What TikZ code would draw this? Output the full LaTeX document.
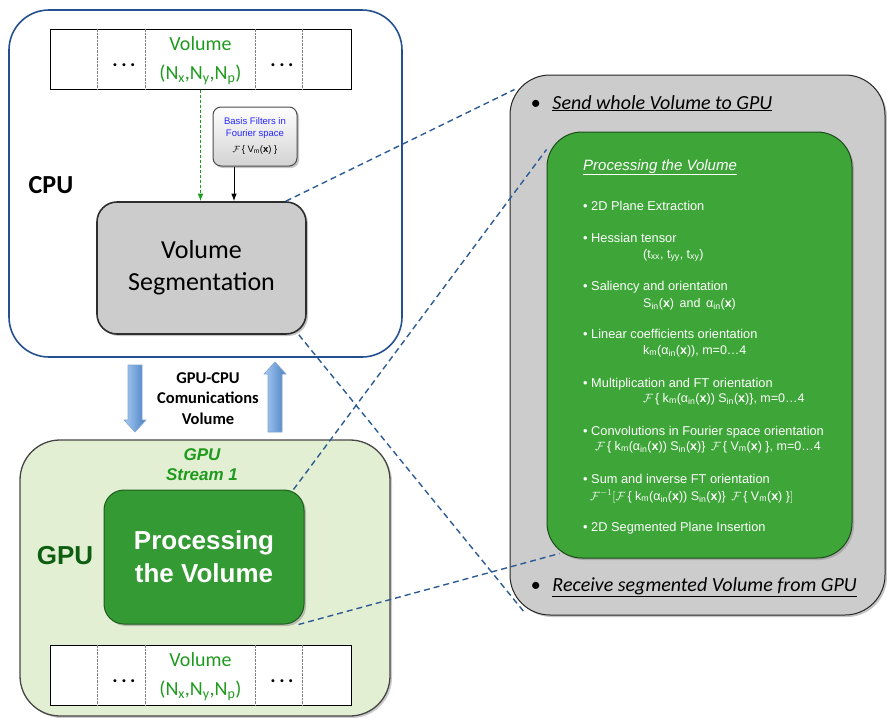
\documentclass[tikz,border=0pt]{standalone}
\usepackage{fontspec}
\setmainfont{Carlito}
\newfontfamily\arialfont{Liberation Sans}
\usetikzlibrary{arrows.meta,positioning,shapes.arrows,shadows,calc}

\definecolor{cpuline}{HTML}{25508F}
\definecolor{volgreen}{HTML}{1E9A1E}
\definecolor{gpufill}{HTML}{E3EFD2}
\definecolor{gpudark}{HTML}{0E5E12}
\definecolor{procfill}{HTML}{349A34}
\definecolor{kernfill}{HTML}{3EA638}
\definecolor{hostfill}{HTML}{CCCCCC}
\definecolor{linkblue}{HTML}{2C5C96}
\definecolor{arrowlight}{HTML}{A8CDF4}
\definecolor{arrowdark}{HTML}{4A7EC0}

\begin{document}
\begin{tikzpicture}[x=1pt, y=-1pt, >=Latex,
    panel/.style={draw, rounded corners=40pt, line width=1.6pt},
    strip/.style={draw, line width=1pt, fill=white, minimum width=301pt, minimum height=60pt, inner sep=0pt},
    roundbox/.style={draw, rounded corners=20pt, line width=1pt, drop shadow={opacity=0.45, shadow xshift=2pt, shadow yshift=-2pt}},
    steptext/.style={anchor=base west, text=white, inner sep=0pt, font=\arialfont\fontsize{12.8}{15}\selectfont},
    mathline/.style={steptext, font=\arialfont\fontsize{12.5}{15}\selectfont},
    link/.style={draw=linkblue, dash pattern=on 6pt off 4pt, line width=1.4pt},
    transfer/.style={draw=arrowdark!70, line width=0.6pt, left color=arrowlight, right color=arrowdark}
  ]
    \useasboundingbox (0,0) rectangle (887,718);

    %% CPU side
    \node [panel, draw=cpuline, fill=white, minimum width=393pt, minimum height=347pt] (cpu) at (205.5,183.5) {};
    \node [font=\bfseries\fontsize{26}{30}\selectfont] (cpulabel) at (51,185) {CPU};

    %% GPU side
    \node [panel, line width=1.3pt, draw=gray!55!black, fill=gpufill, drop shadow={opacity=0.4, shadow xshift=2pt, shadow yshift=-2pt}, minimum width=370pt, minimum height=276pt] (gpu) at (205,578) {};
    \node [text=volgreen, align=center, font=\arialfont\bfseries\itshape\fontsize{17}{20}\selectfont] (stream) at (202,465) {GPU\\Stream 1};
    \node [text=gpudark, font=\arialfont\bfseries\fontsize{26}{30}\selectfont] (gpulabel) at (65,556) {GPU};

    %% volume strips, one in each memory
    \foreach \n/\y in {cpuvol/59, gpuvol/675} {
      \node [strip] (\n) at (200.5,\y) {};
      \foreach \dx in {48,96,206,253}
        \draw [densely dotted, gray] ([xshift=\dx pt]\n.north west) -- ([xshift=\dx pt]\n.south west);
      \node [text=volgreen, align=center, font=\fontsize{20}{29}\selectfont] (\n txt) at (200.5,\y+2) {Volume\\(N\textsubscript{x},N\textsubscript{y},N\textsubscript{p})};
      \node [anchor=base, font=\bfseries\fontsize{20}{24}\selectfont] (\n l) at (124,\y+7) {.\hspace{3.5pt}.\hspace{3.5pt}.};
      \node [anchor=base, font=\bfseries\fontsize{20}{24}\selectfont] (\n r) at (282,\y+7) {.\hspace{3.5pt}.\hspace{3.5pt}.};
    }

    \node [roundbox, rounded corners=8pt, top color=white, bottom color=gray!35, draw=gray!60!black, minimum width=84pt, minimum height=59pt, align=center, text=blue!85!white, font=\arialfont\fontsize{9.5}{12}\selectfont] (basis) at (255,136.5) {Basis Filters in\\Fourier space\\[4pt]{\color{black}$\mathcal{F}$\,\{ V\textsubscript{m}(\textbf{x}) \}}};
    \node [roundbox, fill=gray!40, draw=gray!35!black, line width=1.6pt, minimum width=209pt, minimum height=132pt, align=center, font=\fontsize{26}{32}\selectfont] (seg) at (201.5,268) {Volume\\Segmentation};

    \draw [->, densely dashed, volgreen, line width=1pt] (cpuvol.south) -- (cpuvol.south |- seg.north);
    \draw [->, line width=1pt] ([xshift=-21pt]basis.south) -- ([xshift=-21pt]basis.south |- seg.north);

    %% transfers between host and device
    \coordinate (down) at (135,365);
    \coordinate (up) at (275,432);
    \path [transfer] (down) ++(-7,0) -- ++(14,0) -- ++(0,55) -- ++(4,0) -- ++(-11,12) -- ++(-11,-12) -- ++(4,0) -- cycle;
    \path [transfer] (up) ++(-7,0) -- ++(14,0) -- ++(0,-58) -- ++(4,0) -- ++(-11,-12) -- ++(-11,12) -- ++(4,0) -- cycle;
    \node [align=center, font=\bfseries\fontsize{16.5}{20.5}\selectfont] (comm) at (208,398.5) {GPU-CPU\\Comunications\\Volume};

    \node [roundbox, fill=procfill, draw=procfill!60!black, minimum width=200pt, minimum height=134pt, text=white, align=center, font=\arialfont\bfseries\fontsize{26}{33}\selectfont] (proc) at (204,557) {Processing\\the Volume};

    %% detail of the kernel
    \node [roundbox, rounded corners=40pt, fill=hostfill, draw=gray!30!black, minimum width=375pt, minimum height=540pt] (host) at (697.5,345) {};
    \node [anchor=base west, font=\itshape\fontsize{20}{24}\selectfont] (send) at (527,109) {\textbullet\hspace{12pt}\underline{Send whole Volume to GPU}};
    \node [anchor=base west, font=\itshape\fontsize{20}{24}\selectfont] (recv) at (527,591) {\textbullet\hspace{12pt}\underline{Receive segmented Volume from GPU}};

    \node [roundbox, rounded corners=35pt, fill=kernfill, draw=kernfill!45!black, minimum width=305pt, minimum height=426pt] (kern) at (699.5,345) {};
    \node [steptext, font=\arialfont\itshape\fontsize{15}{18}\selectfont] (ktitle) at (583,170) {\underline{Processing the Volume}};

    \node [steptext] (st1) at (583,210) {• 2D Plane Extraction};
    \node [steptext] (st2) at (583,242) {• Hessian tensor};
    \node [mathline] (eq2) at (643,258) {(t\textsubscript{xx}, t\textsubscript{yy}, t\textsubscript{xy})};
    \node [steptext] (st3) at (583,290) {• Saliency and orientation};
    \node [mathline] (eq3) at (643,307) {S\textsubscript{in}(\textbf{x})\, and\, α\textsubscript{in}(\textbf{x})};
    \node [steptext] (st4) at (583,338) {• Linear coefficients orientation};
    \node [mathline] (eq4) at (643,354) {k\textsubscript{m}(α\textsubscript{in}(\textbf{x})), m=0…4};
    \node [steptext] (st5) at (583,387) {• Multiplication and FT orientation};
    \node [mathline] (eq5) at (643,402) {$\mathcal{F}$\,\{ k\textsubscript{m}(α\textsubscript{in}(\textbf{x})) S\textsubscript{in}(\textbf{x})\}, m=0…4};
    \node [steptext] (st6) at (583,435) {• Convolutions in Fourier space orientation};
    \node [mathline] (eq6) at (595,450) {$\mathcal{F}$\,\{ k\textsubscript{m}(α\textsubscript{in}(\textbf{x})) S\textsubscript{in}(\textbf{x})\}\, $\mathcal{F}$\,\{ V\textsubscript{m}(\textbf{x}) \}, m=0…4};
    \node [steptext] (st7) at (583,483) {• Sum and inverse FT orientation};
    \node [mathline] (eq7) at (590,500) {$\mathcal{F}^{-1}\bigl[$$\mathcal{F}$\,\{ k\textsubscript{m}(α\textsubscript{in}(\textbf{x})) S\textsubscript{in}(\textbf{x})\}\, $\mathcal{F}$\,\{ V\textsubscript{m}(\textbf{x}) \}$\bigr]$};
    \node [steptext] (st8) at (583,531) {• 2D Segmented Plane Insertion};

    %% zoom lines
    \draw [link] ([xshift=-21pt]seg.north east) -- ([shift={(5,15)}]host.north west);
    \draw [link] ([xshift=-8pt]seg.south east) -- ([shift={(15,-3)}]host.south west);
    \draw [link] ([xshift=-11pt]proc.north east) -- ([shift={(0,18)}]kern.north west);
    \draw [link] ([xshift=-6pt]proc.south east) -- ([shift={(13,-5)}]kern.south west);
\end{tikzpicture}
\end{document}
